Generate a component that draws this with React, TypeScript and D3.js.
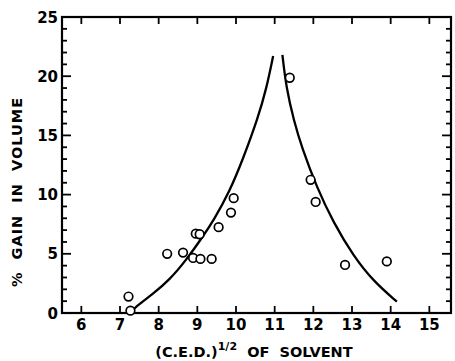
import * as d3 from 'd3'

// measured points (CED^1/2, % gain in volume)
const cedValues = [7.22, 7.27, 8.22, 8.63, 8.89, 9.08, 9.37, 8.96, 9.06, 9.55, 9.87, 9.94, 11.39, 11.93, 12.06, 12.82, 13.9]
const gainValues = [1.39, 0.2, 5.0, 5.1, 4.65, 4.57, 4.57, 6.7, 6.65, 7.25, 8.48, 9.7, 19.87, 11.25, 9.38, 4.06, 4.36]

// hand-drawn curves
const leftCurveX = [7.3, 7.38, 7.85, 8.28, 8.72, 9.15, 9.41, 9.84, 10.18, 10.57, 10.79, 10.96]
const leftCurveY = [0.05, 0.48, 1.6, 2.8, 4.5, 6.5, 7.76, 10.3, 13.0, 16.5, 19.0, 21.7]
const rightCurveX = [11.2, 11.3, 11.5, 11.7, 12.09, 12.52, 13.04, 13.56, 14.16]
const rightCurveY = [21.8, 19.0, 16.2, 14.0, 10.6, 7.63, 4.79, 2.66, 0.96]

const xTicks = [6, 7, 8, 9, 10, 11, 12, 13, 14, 15]
const yTicks = [0, 5, 10, 15, 20, 25]

const W = 455, H = 361
const FONT = '"DejaVu Sans", "Liberation Sans", sans-serif'

export default function App() {
  const x = d3.scaleLinear().domain([5.5, 15.56]).range([62, 451])
  const y = d3.scaleLinear().domain([0, 25]).range([313, 17])
  const [x0, x1] = x.range()
  const [y0, y1] = y.range()

  const line = d3.line<[number, number]>()
    .x(d => x(d[0])).y(d => y(d[1])).curve(d3.curveBasis)
  const leftPts = leftCurveX.map((v, i) => [v, leftCurveY[i]] as [number, number])
  const rightPts = rightCurveX.map((v, i) => [v, rightCurveY[i]] as [number, number])

  const yMinor = d3.range(1, 25)
  const xMinor = d3.range(6, 16)

  return (
    <svg width={W} height={H} viewBox={`0 0 ${W} ${H}`}
      style={{ position: 'absolute', left: 0, top: 0, background: '#fff' }}>
      {/* frame */}
      <rect x={x0} y={y1} width={x1 - x0} height={y0 - y1} fill="none" stroke="#000" strokeWidth={2.2} />

      {/* y ticks left + right */}
      {yMinor.map(v => {
        const major = v % 5 === 0
        const len = major ? 9 : 5
        return (
          <g key={'yt' + v}>
            <line x1={x0} x2={x0 + len} y1={y(v)} y2={y(v)} stroke="#000" strokeWidth={1.8} />
            <line x1={x1} x2={x1 - len} y1={y(v)} y2={y(v)} stroke="#000" strokeWidth={1.8} />
          </g>
        )
      })}
      {/* x ticks top + bottom */}
      {xMinor.map(v => (
        <g key={'xt' + v}>
          <line x1={x(v)} x2={x(v)} y1={y0} y2={y0 - 7} stroke="#000" strokeWidth={1.8} />
          <line x1={x(v)} x2={x(v)} y1={y1} y2={y1 + 7} stroke="#000" strokeWidth={1.8} />
        </g>
      ))}

      {/* tick labels */}
      {yTicks.map(v => (
        <text key={'yl' + v} x={x0 - 4} y={y(v) + 5.5} textAnchor="end"
          fontFamily={FONT} fontWeight="bold" fontSize={15}>{v}</text>
      ))}
      {xTicks.map(v => (
        <text key={'xl' + v} x={x(v)} y={y0 + 17} textAnchor="middle"
          fontFamily={FONT} fontWeight="bold" fontSize={15}>{v}</text>
      ))}

      {/* axis titles */}
      <text x={254} y={357} textAnchor="middle" fontFamily={FONT} fontWeight="bold" fontSize={14.5}
        style={{ whiteSpace: 'pre' }}>
        (C.E.D.)<tspan fontSize={11} dy={-7}>1/2</tspan><tspan dy={7}>  OF  SOLVENT</tspan>
      </text>
      <text transform="translate(22,192) rotate(-90)" textAnchor="middle"
        fontFamily={FONT} fontWeight="bold" fontSize={14.5} letterSpacing={1}
        style={{ whiteSpace: 'pre' }}>
        %  GAIN  IN  VOLUME
      </text>

      {/* curves */}
      <path d={line(leftPts) ?? ''} fill="none" stroke="#000" strokeWidth={2.3} />
      <path d={line(rightPts) ?? ''} fill="none" stroke="#000" strokeWidth={2.3} />

      {/* points */}
      {cedValues.map((v, i) => (
        <circle key={'p' + i} cx={x(v)} cy={y(gainValues[i])} r={4.3}
          fill="#fff" stroke="#000" strokeWidth={1.7} />
      ))}
    </svg>
  )
}
